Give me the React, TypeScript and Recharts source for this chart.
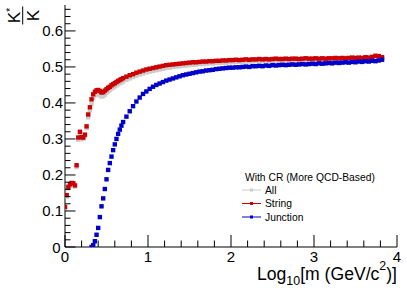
import React from 'react';
import { ScatterChart, Scatter, XAxis, YAxis, Legend, Label } from 'recharts';

// log10 of mass, bin centres as they appear in the figure
const LOG_M = [
  0, 0.02, 0.04, 0.06, 0.08, 0.1, 0.12, 0.14, 0.16, 0.18, 0.2, 0.22, 0.24, 0.26, 0.28, 0.3, 0.32, 0.34,
  0.36, 0.38, 0.4, 0.42, 0.44, 0.46, 0.48, 0.5, 0.52, 0.54, 0.56, 0.58, 0.6, 0.62, 0.64, 0.66, 0.68, 0.7,
  0.74, 0.78, 0.82, 0.86, 0.9, 0.94, 0.98,
  1.02, 1.06, 1.1, 1.14, 1.18, 1.22, 1.26, 1.3, 1.34, 1.38, 1.42, 1.46, 1.5, 1.54, 1.58, 1.62, 1.66, 1.7,
  1.74, 1.78, 1.82, 1.86, 1.9, 1.94, 1.98,
  2.02, 2.06, 2.1, 2.14, 2.18, 2.22, 2.26, 2.3, 2.34, 2.38, 2.42, 2.46, 2.5, 2.54, 2.58, 2.62, 2.66, 2.7,
  2.74, 2.78, 2.82, 2.86, 2.9, 2.94, 2.98,
  3.02, 3.06, 3.1, 3.14, 3.18, 3.22, 3.26, 3.3, 3.34, 3.38, 3.42, 3.46, 3.5, 3.54, 3.58, 3.62, 3.66, 3.7,
  3.74, 3.78, 3.82,
];

const ALL = [
  0.108, 0.14, 0.163, 0.17, 0.175, 0.174, 0.168, 0.222, 0.298, 0.315, 0.3, 0.3, 0.308, 0.33, 0.36, 0.38, 0.398, 0.414,
  0.421, 0.425, 0.425, 0.421, 0.418, 0.419, 0.423, 0.428, 0.432, 0.436, 0.44, 0.443, 0.446, 0.449, 0.452, 0.455, 0.457, 0.46,
  0.464, 0.468, 0.472, 0.476, 0.479, 0.482, 0.485,
  0.487, 0.489, 0.491, 0.493, 0.495, 0.497, 0.498, 0.5, 0.501, 0.502, 0.503, 0.504, 0.505, 0.506, 0.507, 0.508, 0.508, 0.509,
  0.51, 0.51, 0.511, 0.511, 0.512, 0.512, 0.513,
  0.513, 0.514, 0.514, 0.514, 0.515, 0.515, 0.515, 0.516, 0.516, 0.516, 0.517, 0.516, 0.517, 0.517, 0.517, 0.518,
  0.517, 0.518, 0.518, 0.518, 0.518, 0.519, 0.518, 0.519, 0.519,
  0.519, 0.519, 0.52, 0.519, 0.52, 0.52, 0.52, 0.52, 0.521, 0.52, 0.521, 0.521, 0.521, 0.521, 0.522, 0.522, 0.522, 0.523,
  0.525, 0.525, 0.523,
];

const STRING = [
  0.111, 0.144, 0.167, 0.174, 0.178, 0.177, 0.171, 0.227, 0.304, 0.32, 0.305, 0.304, 0.312, 0.335, 0.368, 0.388, 0.41, 0.424,
  0.431, 0.435, 0.436, 0.433, 0.429, 0.43, 0.434, 0.438, 0.442, 0.445, 0.449, 0.452, 0.455, 0.458, 0.461, 0.464, 0.466, 0.469,
  0.473, 0.477, 0.48, 0.484, 0.487, 0.49, 0.493,
  0.495, 0.497, 0.499, 0.501, 0.503, 0.505, 0.506, 0.507, 0.508, 0.509, 0.51, 0.511, 0.512, 0.513, 0.513, 0.514, 0.515, 0.515,
  0.516, 0.516, 0.517, 0.517, 0.518, 0.518, 0.519,
  0.519, 0.52, 0.519, 0.52, 0.521, 0.52, 0.521, 0.521, 0.522, 0.521, 0.522, 0.521, 0.522, 0.523, 0.522, 0.522, 0.523, 0.522,
  0.523, 0.523, 0.522, 0.523, 0.524, 0.523, 0.523,
  0.524, 0.523, 0.524, 0.523, 0.524, 0.524, 0.525, 0.524, 0.525, 0.524, 0.525, 0.526, 0.525, 0.526, 0.525, 0.527, 0.526, 0.528,
  0.531, 0.53, 0.527,
];

const JUNCTION = [
  null, null, null, null, null, null, null, null, null, null, null, null, null, null, null, null, 0.0, 0.005,
  0.016, 0.034, 0.053, 0.083, 0.113, 0.135, 0.161, 0.188, 0.214, 0.233, 0.251, 0.269, 0.285, 0.3, 0.314, 0.326, 0.337, 0.347,
  0.362, 0.377, 0.391, 0.404, 0.415, 0.425, 0.432,
  0.439, 0.445, 0.45, 0.454, 0.458, 0.462, 0.465, 0.468, 0.471, 0.474, 0.477, 0.479, 0.481, 0.483, 0.485, 0.487, 0.488, 0.49,
  0.491, 0.492, 0.494, 0.495, 0.496, 0.497, 0.498,
  0.498, 0.499, 0.499, 0.5, 0.501, 0.5, 0.502, 0.502, 0.503, 0.502, 0.504, 0.503, 0.505, 0.504, 0.505, 0.506, 0.505, 0.506,
  0.507, 0.506, 0.507, 0.508, 0.507, 0.508, 0.509,
  0.508, 0.51, 0.509, 0.51, 0.511, 0.51, 0.512, 0.511, 0.512, 0.513, 0.512, 0.514, 0.513, 0.515, 0.514, 0.516, 0.515, 0.517,
  0.516, 0.518, 0.52,
];

const X_TICKS = [0, 0.2, 0.4, 0.6, 0.8, 1, 1.2, 1.4, 1.6, 1.8, 2, 2.2, 2.4, 2.6, 2.8, 3, 3.2, 3.4, 3.6, 3.8, 4];
const Y_TICKS = [
  0, 0.02, 0.04, 0.06, 0.08, 0.1, 0.12, 0.14, 0.16, 0.18, 0.2, 0.22, 0.24, 0.26, 0.28, 0.3, 0.32,
  0.34, 0.36, 0.38, 0.4, 0.42, 0.44, 0.46, 0.48, 0.5, 0.52, 0.54, 0.56, 0.58, 0.6, 0.62, 0.64, 0.66,
];

const FONT = '"Liberation Sans", Arial, Helvetica, sans-serif';
const GREY = '#cccccc';
const RED = '#cc0000';
const BLUE = '#0000cc';

const SERIES = [
  { name: 'All', color: GREY, values: ALL },
  { name: 'String', color: RED, values: STRING },
  { name: 'Junction', color: BLUE, values: JUNCTION },
];

const toPoints = (ys: (number | null)[]) =>
  LOG_M.map((x, i) => ({ x, y: ys[i] })).filter((p) => p.y != null);

const isMajor = (v: number, step: number) => Math.abs(v / step - Math.round(v / step)) < 1e-6;

function square(color: string, size: number) {
  return (props: any) => {
    const { cx, cy } = props;
    if (cx == null || cy == null) return <g />;
    return <rect x={cx - size / 2} y={cy - size / 2} width={size} height={size} fill={color} />;
  };
}

const bottomTick = (props: any) => {
  const { x, y, payload } = props;
  const major = isMajor(payload.value, 1);
  return (
    <g>
      <line x1={x} x2={x} y1={y} y2={y - (major ? 12 : 6.5)} stroke="#000" />
      {major && (
        <text x={x} y={y + 14.5} textAnchor="middle" fontSize={15} fontFamily={FONT} fill="#000">
          {payload.value}
        </text>
      )}
    </g>
  );
};

const topTick = (props: any) => {
  const { x, y, payload } = props;
  const major = isMajor(payload.value, 1);
  return <line x1={x} x2={x} y1={y} y2={y + (major ? 12 : 6.5)} stroke="#000" />;
};

const leftTick = (props: any) => {
  const { x, y, payload } = props;
  const major = isMajor(payload.value, 0.1);
  const v = payload.value;
  return (
    <g>
      <line x1={x} x2={x + (major ? 10.5 : 5.5)} y1={y} y2={y} stroke="#000" />
      {major && (
        <text x={x - (v === 0 ? 4.5 : 2)} y={y + 5.5} textAnchor="end" fontSize={15} fontFamily={FONT} fill="#000">
          {v === 0 ? '0' : v.toFixed(1)}
        </text>
      )}
    </g>
  );
};

const rightTick = (props: any) => {
  const { x, y, payload } = props;
  const major = isMajor(payload.value, 0.1);
  return <line x1={x} x2={x - (major ? 10.5 : 5.5)} y1={y} y2={y} stroke="#000" />;
};

const xTitle = () => (
  <text x={397} y={280} textAnchor="end" fontSize={17.6} fontFamily={FONT} fill="#000">
    Log
    <tspan fontSize={12.4} dy={5}>10</tspan>
    <tspan dy={-5}>[m (GeV/c</tspan>
    <tspan fontSize={12.4} dy={-10}>2</tspan>
    <tspan dy={10}>)]</tspan>
  </text>
);

const yTitle = () => (
  <g transform="translate(22.7, 15.5) rotate(-90)" fontFamily={FONT} fill="#000">
    <text x={0} y={-2.5} textAnchor="middle" fontSize={17}>
      K<tspan fontSize={11} dy={-6}>*</tspan>
    </text>
    <line x1={-9} x2={9} y1={0} y2={0} stroke="#000" />
    <text x={0} y={16.5} textAnchor="middle" fontSize={17}>
      K
    </text>
  </g>
);

const panelTag = () => (
  <text x={384} y={34} textAnchor="end" fontSize={14} fontFamily={FONT} fill="#000">
    (a)
  </text>
);

const legendContent = () => (
  <svg width={150} height={60} style={{ fontFamily: FONT }}>
    <text x={7} y={15} fontSize={10.3} fill="#000">
      With CR (More QCD-Based)
    </text>
    {SERIES.map((s, i) => {
      const ly = 24 + i * 13.5;
      return (
        <g key={s.name}>
          <line x1={4} x2={23} y1={ly} y2={ly} stroke={s.color} />
          <rect x={12} y={ly - 1.5} width={3} height={3} fill={s.color} />
          <text x={27} y={ly + 3.5} fontSize={10.3} fill="#000">
            {s.name}
          </text>
        </g>
      );
    })}
  </svg>
);

export default function App() {
  return (
    <div style={{ position: 'absolute', left: 0, top: 0, width: 407, height: 293, background: '#fff' }}>
      <ScatterChart width={407} height={293} margin={{ top: 5, right: 10, bottom: 0, left: 0 }}>
        <XAxis
          xAxisId="b"
          type="number"
          dataKey="x"
          domain={[0, 4]}
          ticks={X_TICKS}
          interval={0}
          tickSize={0}
          tickMargin={0}
          height={46}
          allowDataOverflow
          axisLine={{ stroke: '#000' }}
          tick={bottomTick}
        >
          <Label content={xTitle} />
        </XAxis>
        <XAxis
          xAxisId="t"
          orientation="top"
          type="number"
          dataKey="x"
          domain={[0, 4]}
          ticks={X_TICKS}
          interval={0}
          tickSize={0}
          tickMargin={0}
          height={0}
          allowDataOverflow
          axisLine={{ stroke: '#000' }}
          tick={topTick}
        >
          <Label content={panelTag} />
        </XAxis>
        <YAxis
          yAxisId="l"
          type="number"
          dataKey="y"
          domain={[0, 0.672]}
          ticks={Y_TICKS}
          interval={0}
          tickSize={0}
          tickMargin={0}
          width={65}
          allowDataOverflow
          axisLine={{ stroke: '#000' }}
          tick={leftTick}
        >
          <Label content={yTitle} />
        </YAxis>
        <YAxis
          yAxisId="r"
          orientation="right"
          type="number"
          dataKey="y"
          domain={[0, 0.672]}
          ticks={Y_TICKS}
          interval={0}
          tickSize={0}
          tickMargin={0}
          width={0}
          allowDataOverflow
          axisLine={{ stroke: '#000' }}
          tick={rightTick}
        />
        {SERIES.map((s) => (
          <Scatter
            key={s.name}
            name={s.name}
            xAxisId="b"
            yAxisId="l"
            data={toPoints(s.values)}
            fill={s.color}
            shape={square(s.color, 4.4)}
            isAnimationActive={false}
          />
        ))}
        <Legend
          layout="vertical"
          align="center"
          verticalAlign="middle"
          content={legendContent}
          wrapperStyle={{ position: 'absolute', left: 238, top: 166, width: 150, height: 60 }}
        />
      </ScatterChart>
    </div>
  );
}
